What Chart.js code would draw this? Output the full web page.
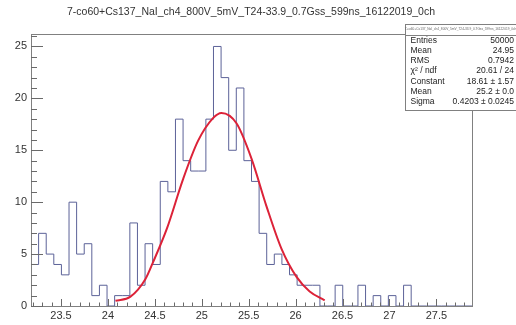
<!DOCTYPE html>
<html>
<head>
<meta charset="utf-8">
<script src="https://cdn.jsdelivr.net/npm/chart.js@4.4.1/dist/chart.umd.min.js"></script>
<style>
  html, body { margin: 0; padding: 0; background: #fff; }
  #wrap { width: 516px; height: 325px; }
</style>
</head>
<body>
<div id="wrap"><canvas id="chart" width="516" height="325"></canvas></div>
<script>
const histTitle = "7-co60+Cs137_NaI_ch4_800V_5mV_T24-33.9_0.7Gss_599ns_16122019_0ch";

// histogram range and bin contents (58 bins)
const xMin = 23.18;
const xMax = 27.88;
const binCounts = [
    7, 4, 7, 5, 4, 3, 10, 5, 6, 1,
    2, 0, 1, 1, 8, 2, 6, 4, 12, 11,
    18, 14, 13, 13, 18, 25, 22, 15, 21, 14,
    12, 7, 4, 5, 4, 3, 2, 2, 2, 0,
    0, 2, 0, 0, 2, 0, 1, 0, 1, 0,
    2, 0, 0, 0, 0, 0, 0, 0
];

// gaus fit curve
const fitX = [24.08, 24.24, 24.40, 24.48, 24.63, 24.80, 24.96, 25.12, 25.21, 25.37, 25.53, 25.69, 25.85, 26.01, 26.15, 26.31];
const fitY = [0.5, 0.9, 2.6, 4.2, 7.5, 12.2, 15.9, 18.1, 18.6, 17.6, 14.2, 9.6, 5.5, 2.8, 1.4, 0.55];

const xTickValues = [23.5, 24, 24.5, 25, 25.5, 26, 26.5, 27, 27.5];
const yTickValues = [0, 5, 10, 15, 20, 25];
const yMax = 26.2;

const statNames = ["Entries", "Mean", "RMS", "\u03C7\u00B2 / ndf", "Constant", "Mean", "Sigma"];
const statValues = ["50000", "24.95", "0.7942", "20.61 / 24", "18.61 \u00B1 1.57", "25.2 \u00B1 0.0", "0.4203 \u00B1 0.0245"];

const fontFamily = "'Liberation Sans', Arial, sans-serif";

const binWidth = (xMax - xMin) / binCounts.length;
const histPoints = binCounts.map((c, i) => ({ x: xMin + i * binWidth, y: c }));
histPoints.push({ x: xMax, y: binCounts[binCounts.length - 1] });
const fitPoints = fitX.map((x, i) => ({ x: x, y: fitY[i] }));

// ROOT style frame, inner ticks, title and stats box
const rootDecor = {
    id: "rootDecor",
    afterDraw(chart) {
        const ctx = chart.ctx;
        const area = chart.chartArea;
        const xs = chart.scales.x;
        const ys = chart.scales.y;
        ctx.save();

        ctx.strokeStyle = "#808080";
        ctx.lineWidth = 1;
        ctx.strokeRect(Math.round(area.left) + 0.5, Math.round(area.top) + 0.5,
            Math.round(area.right - area.left), Math.round(area.bottom - area.top));

        ctx.strokeStyle = "#6a6a6a";
        ctx.beginPath();
        for (let k = 232; k <= 278; k++) {
            const v = k / 10;
            const px = Math.round(xs.getPixelForValue(v)) + 0.5;
            const len = (k % 5 === 0) ? 7 : 3.5;
            ctx.moveTo(px, area.bottom);
            ctx.lineTo(px, area.bottom - len);
        }
        for (let v = 0; v <= 26; v++) {
            const py = Math.round(ys.getPixelForValue(v)) + 0.5;
            const len = (v % 5 === 0) ? 12 : 6;
            ctx.moveTo(area.left, py);
            ctx.lineTo(area.left + len, py);
        }
        ctx.stroke();

        // title
        ctx.fillStyle = "#333";
        ctx.font = "10.5px " + fontFamily;
        ctx.textAlign = "center";
        ctx.textBaseline = "middle";
        ctx.fillText(histTitle, 251, 12);

        // stats box
        const bx = 405.5, by = 24.5, bw = 112, bh = 86;
        ctx.fillStyle = "#fff";
        ctx.fillRect(bx, by, bw, bh);
        ctx.strokeStyle = "#808080";
        ctx.strokeRect(bx, by, bw, bh);
        ctx.beginPath();
        ctx.moveTo(bx, 35.5);
        ctx.lineTo(bx + bw, 35.5);
        ctx.stroke();
        ctx.fillStyle = "#666";
        ctx.font = "3.2px " + fontFamily;
        ctx.fillText(histTitle, bx + 55, 29.5);

        ctx.fillStyle = "#222";
        ctx.font = "8.5px " + fontFamily;
        statNames.forEach((name, i) => {
            const y = 40.5 + i * 10.2;
            ctx.textAlign = "left";
            ctx.fillText(name, 410.5, y);
            ctx.textAlign = "right";
            ctx.fillText(statValues[i], 514, y);
        });
        ctx.restore();
    }
};

const ctx = document.getElementById("chart").getContext("2d");
new Chart(ctx, {
    type: "line",
    data: {
        datasets: [
            {
                label: "gaus",
                data: fitPoints,
                borderColor: "#dc2238",
                borderWidth: 2,
                pointRadius: 0,
                fill: false,
                cubicInterpolationMode: "monotone",
                order: 0
            },
            {
                label: "hist",
                data: histPoints,
                borderColor: "#5c6298",
                borderWidth: 1,
                pointRadius: 0,
                fill: false,
                stepped: "after",
                order: 1
            }
        ]
    },
    options: {
        responsive: false,
        animation: false,
        devicePixelRatio: 1,
        layout: { padding: { left: 0, right: 44, top: 34, bottom: 0 } },
        plugins: {
            legend: { display: false },
            title: { display: false },
            tooltip: { enabled: false }
        },
        scales: {
            x: {
                type: "linear",
                min: xMin,
                max: xMax,
                afterBuildTicks: s => { s.ticks = xTickValues.map(v => ({ value: v })); },
                afterFit: s => { s.height = 19; },
                grid: { display: false, drawTicks: false },
                border: { display: false },
                ticks: {
                    autoSkip: false,
                    maxRotation: 0,
                    padding: 3,
                    color: "#333",
                    font: { family: fontFamily, size: 11 },
                    callback: v => String(v)
                }
            },
            y: {
                min: 0,
                max: yMax,
                afterBuildTicks: s => { s.ticks = yTickValues.map(v => ({ value: v })); },
                afterFit: s => { s.width = 31; },
                grid: { display: false, drawTicks: false },
                border: { display: false },
                ticks: {
                    padding: 4,
                    color: "#333",
                    font: { family: fontFamily, size: 11 },
                    callback: v => String(v)
                }
            }
        }
    },
    plugins: [rootDecor]
});
</script>
</body>
</html>
